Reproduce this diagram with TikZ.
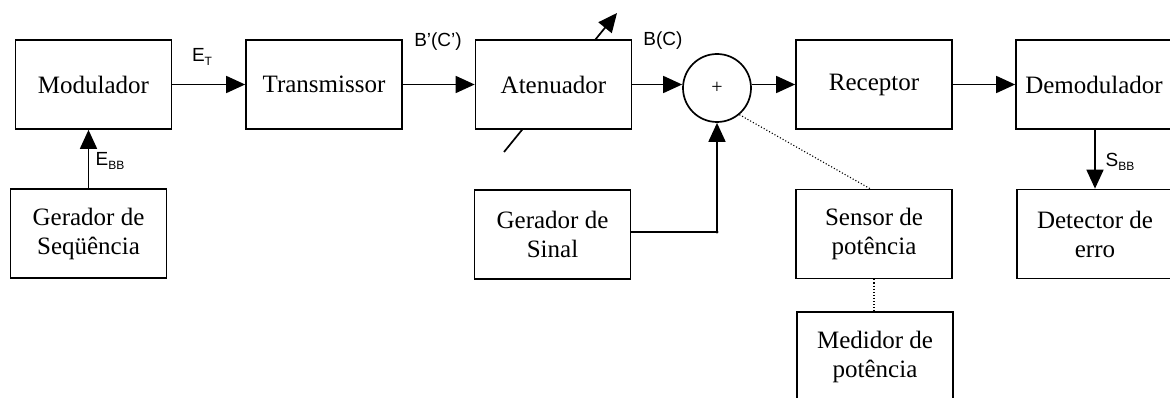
\documentclass[tikz,border=0pt]{standalone}
\usepackage{fontspec}
\setmainfont{Liberation Serif}
\newfontfamily\arialf{Liberation Sans}
\usetikzlibrary{arrows.meta}
\newcommand\mysub[1]{\raisebox{-3.5pt}{\fontsize{12}{12}\selectfont #1}}
\begin{document}
\begin{tikzpicture}[x=1pt,y=-1pt,
  box/.style={draw, line width=1.7pt, fill=white, minimum width=156pt, minimum height=89pt,
    inner sep=0pt, align=center, font=\fontsize{25}{29}\selectfont},
  conn/.style={line width=1.7pt, -{Triangle[length=19pt,width=17pt]}},
  plain/.style={line width=1.7pt},
  lbl/.style={font=\arialf\fontsize{19}{19}\selectfont, inner sep=0pt},
  dots/.style={line width=1.1pt, dotted}]
\useasboundingbox (0,0) rectangle (1170,398);
\clip (0,0) rectangle (1170,398);

% variable attenuator arrow (behind the box)
\coordinate (va) at (504,152);
\coordinate (vb) at (617,13);
\draw[conn] (va) -- (vb);

% top row
\node[box] (mod)   at (93.5,84.5)  {Modulador};
\node[box] (tx)    at (324,84.5)   {Transmissor};
\node[box] (aten)  at (553.5,84.5) {Atenuador};
\node[draw, circle, line width=1.7pt, minimum size=68pt, inner sep=0pt,
      font=\fontsize{20}{20}\selectfont] (sum) at (717,88) {+};
\node[box] (rx)    at (874,84.5)   {Receptor};
\node[box] (demod) at (1094,84.5)  {Demodulador};

% lower row
\node[box] (gseq)  at (88.5,233.5) {Gerador de\\Seqüência};
\node[box] (gsin)  at (552.5,234.5){Gerador de\\Sinal};
\node[box] (sens)  at (874,234)    {Sensor de\\potência};
\node[box] (det)   at (1095,234)   {Detector de\\erro};
\node[box] (med)   at (875,356.5)  {Medidor de\\potência};

% connectors
\draw[conn] (mod.east) -- (tx.west);
\draw[conn] (tx.east) -- (aten.west);
\draw[conn] (aten.east) -- (aten.east -| sum.west);
\draw[conn] (sum.east |- rx.west) -- (rx.west);
\draw[conn] (rx.east) -- (demod.west);
\draw[conn] (gseq.north) -- (gseq.north |- mod.south);
\draw[conn] (demod.south -| det.north) -- (det.north);
\coordinate (corner) at (sum.south |- 0,232);
\draw[plain] (gsin.east |- corner) -- (corner);
\draw[conn] (corner) -- (sum.south);
\fill (corner) circle (1.6pt);
\draw[dots] (sum.-50) -- ([xshift=-4pt]sens.north);
\draw[dots] (sens.south) -- (sens.south |- med.north);

% labels
\node[lbl] (let)  at (202,57)  {E\mysub{T}};
\node[lbl] (lebb) at (110,161) {E\mysub{BB}};
\node[lbl] (lbc1) at (438,42)  {B’(C’)};
\node[lbl] (lbc)  at (663,41)  {B(C)};
\node[lbl] (lsbb) at (1120,162){S\mysub{BB}};
\end{tikzpicture}
\end{document}
